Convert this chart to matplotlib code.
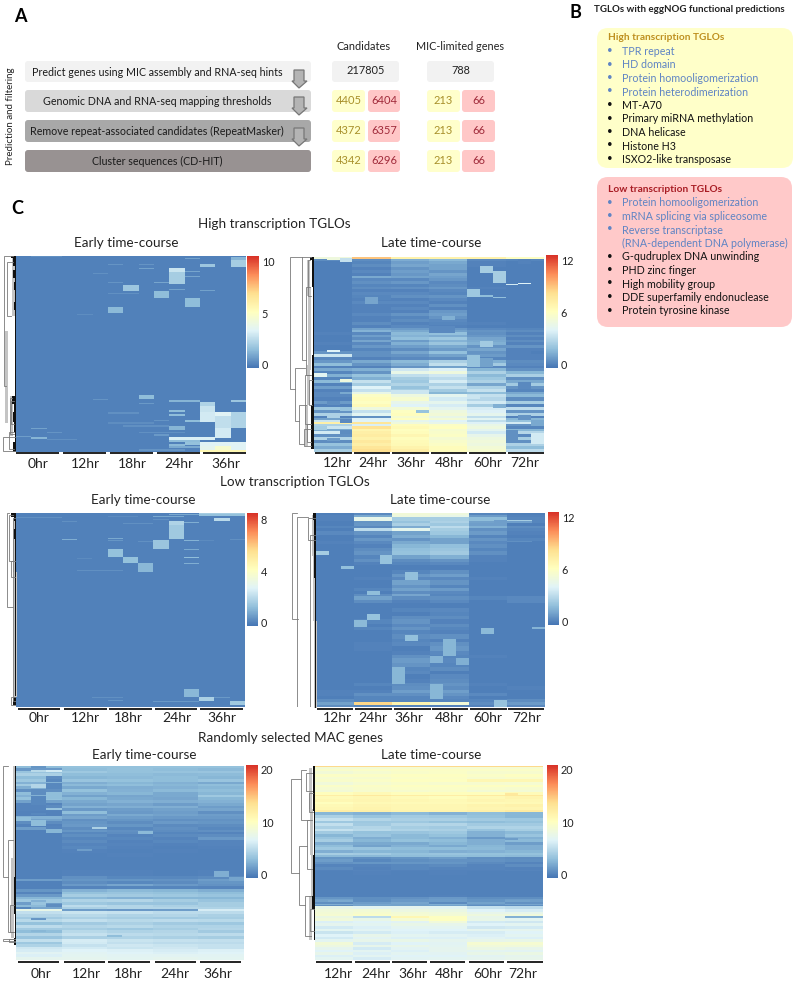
import numpy as np
import matplotlib
matplotlib.use("Agg")
import matplotlib.pyplot as plt
from matplotlib.colors import LinearSegmentedColormap, Normalize
from matplotlib.patches import FancyBboxPatch, Polygon

plt.rcParams['font.family'] = ['Lato', 'DejaVu Sans']

W, H = 800, 984
EARLY_TIMES = ['0hr', '12hr', '18hr', '24hr', '36hr']
LATE_TIMES = ['12hr', '24hr', '36hr', '48hr', '60hr', '72hr']

# ---- panel A values
STEPS = ['Predict genes using MIC assembly and RNA-seq hints',
         'Genomic DNA and RNA-seq mapping thresholds',
         'Remove repeat-associated candidates (RepeatMasker)',
         'Cluster sequences (CD-HIT)']
CANDIDATES_ALL = 217805
MIC_ALL = 788
CANDIDATES_HIGH = [4405, 4372, 4342]
CANDIDATES_LOW = [6404, 6357, 6296]
MIC_HIGH = [213, 213, 213]
MIC_LOW = [66, 66, 66]

# ---- panel B
HIGH_BLUE = ['TPR repeat', 'HD domain', 'Protein homooligomerization', 'Protein heterodimerization']
HIGH_BLACK = ['MT-A70', 'Primary miRNA methylation', 'DNA helicase', 'Histone H3', 'ISXO2-like transposase']
LOW_BLUE = ['Protein homooligomerization', 'mRNA splicing via spliceosome', 'Reverse transcriptase',
            '(RNA-dependent DNA polymerase)']
LOW_BLACK = ['G-qudruplex DNA unwinding', 'PHD zinc finger', 'High mobility group',
             'DDE superfamily endonuclease', 'Protein tyrosine kinase']

# ---- heatmaps: background rows are [span, values per time point or per replicate]
#      spots are (first row, end row, first column, end column, value)
HE_ROWS = [[196, 0, 0, 0, 0, 0]]
HE_SPOTS = [(12, 16, 10, 11, 2.8), (16, 28, 10, 11, 2.0), (29, 35, 7, 8, 1.8), (35, 42, 9, 10, 1.5),
            (42, 51, 11, 12, 1.5), (51, 57, 6, 7, 1.4), (8, 11, 12, 13, 1.8), (1, 4, 14, 15, 1.3),
            (4, 11, 14, 15, 2.0), (139, 143, 8, 9, 1.5), (146, 150, 12, 13, 2.2), (150, 156, 12, 13, 2.8),
            (156, 166, 12, 13, 3.0), (156, 160, 13, 14, 3.4), (160, 172, 13, 14, 2.6), (172, 182, 13, 14, 3.0),
            (156, 172, 14, 15, 2.2), (144, 146, 14, 15, 1.8), (144, 146, 10, 12, 1.3), (154, 156, 10, 11, 1.5),
            (158, 160, 10, 11, 1.5), (170, 174, 10, 11, 1.3), (164, 166, 11, 12, 1.5), (181, 184, 10, 13, 3.2),
            (184, 186, 10, 12, 1.5), (186, 190, 12, 15, 3.4), (190, 194, 12, 13, 3.6), (190, 194, 13, 14, 4.6),
            (190, 194, 14, 15, 3.4), (194, 196, 12, 15, 5.5), (186, 189, 11, 12, 1.6), (188, 191, 10, 11, 1.4),
            (181, 183, 1, 2, 1.3), (172, 173, 1, 2, 0.8), (180, 181, 0, 1, 0.7), (176, 177, 2, 3, 0.5),
            (0, 1, 1, 3, 0.4), (2, 3, 11, 12, 0.8), (20, 21, 11, 12, 0.9), (15, 16, 11, 12, 0.9),
            (8, 9, 6, 7, 0.5), (12, 13, 8, 9, 0.8), (8, 9, 8, 9, 0.5), (26, 27, 9, 10, 0.9), (26, 27, 6, 7, 0.5),
            (33, 34, 10, 11, 0.8), (34, 35, 12, 13, 0.8), (37, 38, 6, 8, 0.4), (58, 59, 4, 5, 0.3),
            (17, 18, 5, 6, 0.4), (143, 144, 5, 6, 0.5), (147, 148, 8, 9, 0.6), (156, 158, 6, 8, 0.4),
            (169, 171, 7, 10, 0.4), (176, 177, 8, 11, 0.4), (164, 165, 9, 10, 0.5), (178, 180, 9, 10, 0.6),
            (190, 192, 10, 12, 1.0), (183, 184, 2, 4, 0.4), (193, 195, 8, 11, 0.5), (166, 168, 6, 9, 0.3)]

HL_ROWS = [[2, 5, 9, 7, 7, 7, 6], [2, 0.4, 0.4, 1.3, 1.7, 0.3, 0.2], [3, 0, 0.2, 0.9, 1.2, 0.1, 0],
           [3, 0, 0.4, 1.1, 1.0, 0.1, 0], [3, 0, 0.1, 0.6, 1.0, 0, 0], [3, 0, 0.3, 0.9, 0.6, 0, 0],
           [3, 0, 0.1, 0.7, 1.1, 0, 0], [2, 0, 1.2, 1.0, 0.9, 0, 0], [3, 0, 0.3, 0.3, 0.7, 0, 0],
           [3, 0, 0.5, 0.7, 0.3, 0, 0], [3, 0, 0.2, 0.2, 0.4, 0, 0], [3, 0, 0.4, 0.5, 0.7, 0.1, 0],
           [3, 0, 0.1, 0.1, 0.3, 0, 0], [3, 0, 0.3, 0.3, 0.2, 0, 0], [3, 0, 0.2, 0.5, 0.6, 0, 0],
           [3, 0, 0.1, 0.1, 0.3, 0, 0], [3, 0, 0.3, 0.3, 0.1, 0, 0], [3, 0, 0.1, 0.1, 0.5, 0, 0],
           [3, 0, 0.1, 0.3, 0.1, 0, 0], [3, 0, 0.1, 0.1, 0.7, 0, 0], [3, 0, 0.3, 0.6, 0.9, 0, 0],
           [3, 0, 0.1, 0.2, 0.6, 0, 0], [3, 0, 0.1, 0.4, 0.3, 0, 0], [3, 0, 0.4, 0.1, 0.2, 0.1, 0],
           [3, 0, 0.1, 0.3, 0.1, 0, 0], [2, 0, 1.0, 0.8, 0.7, 0.3, 0.2], [2, 0, 1.5, 1.2, 1.0, 0.6, 0.4],
           [3, 0.1, 0.3, 1.7, 1.9, 0.5, 0.1], [2, 0, 0.9, 1.5, 1.3, 0.7, 0.4], [3, 0, 0.4, 1.9, 2.2, 1.1, 0.1],
           [2, 0, 1.1, 0.8, 1.5, 1.2, 0.4], [3, 0.1, 0.3, 1.4, 2.1, 1.4, 0.1], [3, 0, 0.7, 0.9, 1.2, 0.6, 0.6],
           [3, 0, 0.2, 0.4, 0.8, 1.1, 0.1], [3, 0.6, 0.5, 1.1, 1.9, 0.6, 0], [4, 3.4, 0.5, 0.6, 1.0, 0.8, 0.1],
           [3, 0.3, 0.1, 0.3, 0.4, 0.2, 0.1], [3, 0.7, 1.2, 1.7, 2.5, 1.4, 0.4], [3, 1.8, 0.6, 1.3, 3.1, 2.3, 0.3],
           [2, 0.1, 0.1, 0.6, 1.0, 0.3, 0.1], [3, 1.2, 1.4, 3.5, 3.9, 1.6, 0.5], [3, 0.2, 0.6, 4.6, 5.0, 2.6, 1.6],
           [3, 1.4, 2.0, 3.1, 3.5, 1.7, 2.5], [3, 0.2, 1.4, 2.4, 3.0, 2.2, 0.5], [3, 1.7, 3.2, 2.2, 3.7, 2.6, 1.2],
           [3, 0.1, 2.4, 2.7, 2.6, 1.1, 2.3], [3, 0.9, 4.0, 2.0, 3.2, 2.6, 0.6], [3, 0.1, 3.2, 2.4, 2.3, 3.2, 0.2],
           [2, 1.2, 4.6, 1.2, 1.6, 1.8, 1.2], [3, 0.3, 5.9, 4.9, 4.3, 3.2, 1.7], [4, 0.1, 6.3, 5.5, 3.6, 2.8, 0.4],
           [3, 0.8, 6.0, 4.5, 4.4, 3.6, 2.4], [3, 0.1, 6.4, 4.0, 3.7, 2.4, 0.2], [3, 2.2, 4.9, 5.3, 4.3, 3.7, 3.0],
           [3, 0.6, 3.2, 6.0, 4.9, 3.9, 0.6], [3, 2.6, 4.2, 6.2, 5.2, 4.4, 2.6], [2, 0.1, 0.5, 5.5, 4.6, 3.1, 0.1],
           [3, 1.0, 3.9, 6.1, 5.3, 4.2, 1.6], [2, 3.4, 4.0, 4.4, 4.0, 3.1, 2.0], [2, 7.2, 7.8, 5.0, 4.5, 3.9, 3.6],
           [2, 2.6, 3.8, 6.3, 5.9, 4.6, 0.6], [3, 3.4, 8.0, 6.5, 6.1, 4.9, 0.2], [2, 1.2, 6.8, 6.1, 5.5, 4.3, 1.6],
           [3, 3.6, 7.2, 6.3, 5.7, 3.6, 2.8], [3, 0.5, 7.4, 6.7, 5.9, 4.5, 0.3], [3, 2.7, 7.0, 6.2, 5.4, 4.9, 2.4],
           [3, 0.4, 7.6, 6.4, 5.7, 5.1, 0.5], [3, 2.0, 7.2, 6.5, 5.9, 4.9, 2.6], [3, 1.3, 7.8, 6.9, 6.3, 5.3, 1.8],
           [3, 2.4, 8.2, 7.3, 6.3, 5.5, 3.0]]
HL_SPOTS = [(0, 3, 1, 2, 5.0), (1, 5, 2, 3, 3.2), (94, 96, 1, 2, 4.0), (118, 122, 0, 1, 4.2), (124, 127, 2, 3, 5.0),
            (9, 16, 13, 14, 2.4), (14, 26, 14, 15, 2.4), (32, 41, 12, 13, 2.2), (39, 41, 13, 14, 1.8),
            (41, 42, 14, 15, 1.9), (27, 28, 15, 16, 3.6), (26, 27, 16, 17, 4.0), (85, 91, 13, 14, 2.3),
            (40, 44, 4, 6, 0.2), (41, 48, 4, 5, 1.1), (60, 64, 10, 11, 1.4), (70, 77, 9, 11, 0.3), (2, 7, 16, 17, 0.1),
            (93, 101, 15, 17, 0.1), (100, 112, 12, 13, 2.0), (103, 112, 13, 14, 1.0), (137, 141, 0, 2, 0.3),
            (146, 150, 1, 2, 0.4), (152, 156, 2, 3, 2.0), (165, 169, 2, 3, 0.3), (160, 163, 1, 2, 2.6),
            (176, 180, 2, 3, 0.4), (184, 187, 1, 2, 0.8), (172, 176, 0, 1, 2.4), (140, 144, 12, 13, 3.4),
            (149, 153, 14, 15, 1.4), (160, 166, 16, 17, 0.6), (176, 186, 15, 16, 0.5), (166, 172, 17, 18, 1.2),
            (179, 190, 17, 18, 3.6), (127, 134, 16, 17, 0.3), (155, 158, 8, 9, 2.0), (135, 139, 6, 9, 3.4)]

LE_ROWS = [[196, 0, 0, 0, 0, 0]]
LE_SPOTS = [(0, 3, 12, 15, 1.3), (0, 1, 12, 15, 1.6), (1, 2, 10, 12, 0.8), (3, 4, 9, 11, 0.8), (4, 5, 0, 3, 0.3),
            (5, 8, 13, 14, 2.0), (8, 12, 10, 11, 1.8), (12, 26, 10, 11, 1.5), (27, 36, 9, 10, 1.4), (36, 44, 6, 7, 1.3),
            (44, 51, 7, 8, 1.3), (51, 60, 8, 9, 1.1), (178, 186, 11, 12, 1.1), (186, 190, 12, 13, 1.7),
            (190, 194, 14, 15, 1.5), (9, 10, 11, 12, 0.9), (26, 27, 3, 4, 0.9), (25, 26, 6, 7, 0.8), (27, 28, 6, 7, 0.4),
            (27, 28, 11, 12, 1.0), (36, 37, 11, 12, 0.8), (44, 45, 11, 12, 1.2), (51, 52, 11, 12, 0.9),
            (58, 59, 4, 7, 0.3), (45, 46, 4, 5, 0.2), (10, 11, 7, 9, 0.3), (8, 9, 3, 4, 0.3), (6, 7, 9, 10, 0.3),
            (26, 27, 14, 15, 0.3), (186, 187, 13, 14, 0.5), (186, 187, 5, 7, 0.3), (189, 190, 6, 7, 0.4),
            (190, 191, 9, 12, 0.5), (3, 4, 6, 8, 0.2), (28, 29, 8, 9, 0.3), (27, 28, 12, 13, 0.2)]

LL_ROWS = [[2, 0, 0.3, 5.2, 5.0, 0.2, 0], [2, 0.1, 1.2, 5.0, 4.6, 0.8, 0.1], [3, 0.1, 4.5, 2.4, 2.4, 1.8, 0.2],
           [2, 0, 0.6, 2.0, 2.6, 1.2, 0.2], [3, 0, 0.7, 2.5, 2.2, 0.9, 0], [2, 0.2, 0.3, 1.3, 3.0, 1.4, 0.4],
           [3, 0, 3.0, 4.4, 2.4, 0.5, 0.2], [3, 0.3, 0.6, 1.0, 2.2, 0.8, 0.1], [3, 0, 0.2, 1.3, 1.6, 0.2, 0],
           [3, 0, 0.7, 0.6, 1.0, 0.6, 0.2], [3, 0.1, 0.3, 1.2, 1.0, 0.3, 0], [3, 0, 0.1, 1.6, 1.9, 0.5, 0],
           [3, 0, 0.4, 1.9, 2.1, 0.2, 0], [4, 0, 0.6, 2.0, 2.3, 0.5, 0], [3, 0, 0.2, 1.0, 1.4, 0.1, 0],
           [3, 0, 0.5, 0.4, 0.6, 0.1, 0], [3, 0, 0.1, 0.2, 0.3, 0, 0], [5, 0, 0, 0, 0, 0, 0],
           [3, 0, 0, 0.2, 0.5, 0, 0], [3, 0, 0, 0.7, 0.9, 0, 0], [3, 0, 0.1, 0.3, 0.3, 0.1, 0],
           [4, 0, 0, 1.0, 0.6, 0, 0], [3, 0, 0, 0.6, 0.2, 0, 0], [3, 0, 0.2, 1.0, 0.8, 0, 0],
           [3, 0, 0, 0.4, 0.3, 0, 0], [2, 0, 0.4, 1.1, 0.2, 0, 0], [3, 0, 1.0, 0.4, 0.5, 0.2, 0.3],
           [3, 0, 0.4, 0.1, 0.3, 0, 0.3], [5, 0, 0, 0, 0, 0, 0], [3, 0, 0, 0.2, 0.3, 0, 0],
           [4, 0, 0, 0, 0.2, 0, 0], [3, 0, 0, 0.4, 0.4, 0, 0], [4, 0, 0.2, 0.6, 0.1, 0, 0],
           [3, 0, 0, 0.3, 0.4, 0, 0], [3, 0, 0.2, 0.6, 0.2, 0, 0], [4, 0, 0, 0.2, 0.1, 0, 0],
           [4, 0, 0, 0.4, 0.5, 0, 0], [3, 0, 0, 0.2, 0.1, 0, 0], [4, 0, 0.1, 0.3, 0.5, 0, 0],
           [4, 0, 0.1, 0, 0.7, 0, 0], [4, 0, 0, 0.1, 0.3, 0, 0], [3, 0, 0, 0.5, 0.2, 0.1, 0],
           [4, 0, 0, 0.8, 0.3, 0, 0], [4, 0, 0, 0.6, 0.2, 0, 0], [4, 0, 0, 0.2, 0.4, 0, 0],
           [3, 0, 0, 0.3, 0, 0, 0], [4, 0, 0, 0, 0.3, 0, 0], [4, 0, 0, 0.1, 0.4, 0, 0],
           [3, 0, 0.2, 0.4, 0.6, 0.1, 0], [3, 0, 0, 0.5, 0.4, 0, 0.1], [3, 0.1, 0.1, 0.9, 0.9, 0, 0],
           [3, 0.1, 0.5, 0.5, 0.6, 0.3, 0], [3, 0, 0.2, 0.2, 0.3, 0, 0], [2, 0.4, 0.2, 0.2, 0.2, 0.2, 0.4],
           [3, 1.0, 8.5, 6.8, 5.2, 0.4, 0.8], [2, 0.4, 0.2, 0.2, 0.1, 0.1, 0.3]]
LL_SPOTS = [(35, 39, 0, 1, 2.4), (49, 52, 2, 3, 1.9), (39, 47, 5, 6, 2.0), (54, 62, 7, 8, 1.9), (72, 76, 4, 5, 1.8),
            (93, 99, 4, 5, 2.0), (99, 105, 3, 4, 1.7), (113, 118, 7, 8, 1.9), (116, 132, 10, 11, 1.6),
            (132, 138, 9, 10, 1.5), (134, 140, 11, 12, 1.4), (142, 158, 6, 7, 1.6), (158, 172, 9, 10, 1.6),
            (106, 112, 13, 14, 1.7), (182, 193, 12, 13, 2.4), (173, 181, 14, 15, 2.0), (105, 107, 17, 18, 1.5),
            (26, 27, 15, 17, 0.5), (6, 9, 14, 17, 0.9), (7, 9, 12, 14, 1.0), (6, 7, 15, 17, 2.4)]

RE_ROWS = [[2, 3, 3.2, 3.2, 3.2, 3.2], [3, 1.2, 3.0, 3.2, 3.0, 2.8], [3, 3.4, 3.6, 3.2, 3.3, 3.4], [3, 4.2, 3.0, 3.0, 2.8, 2.9],
           [3, 3.0, 2.6, 2.8, 3.0, 2.6], [3, 3.6, 3.4, 3.2, 3.0, 3.4], [2, 2.4, 2.2, 2.6, 2.4, 2.0], [3, 3.8, 2.8, 3.0, 2.6, 3.0],
           [3, 2.2, 2.0, 2.2, 2.4, 2.6], [3, 0.8, 3.2, 2.4, 2.8, 3.0], [3, 3.0, 2.4, 2.6, 2.0, 2.6], [3, 2.4, 1.6, 1.8, 2.0, 3.6],
           [3, 3.2, 2.6, 2.0, 1.8, 2.6], [3, 1.6, 2.0, 2.4, 2.2, 2.4], [3, 0.2, 1.6, 1.8, 1.4, 2.0], [3, 0.2, 2.4, 2.2, 2.2, 1.4],
           [3, 0.2, 1.2, 1.4, 1.6, 1.8], [3, 0.1, 3.0, 1.2, 1.4, 0.8], [2, 0.1, 1.4, 2.0, 1.6, 1.4], [3, 2.4, 1.8, 1.4, 1.2, 1.2],
           [3, 1.6, 0.8, 1.0, 0.8, 0.9], [3, 0.6, 1.0, 0.6, 1.2, 1.0], [3, 0.1, 1.2, 1.0, 0.5, 0.6], [3, 1.4, 0.6, 0.4, 0.8, 0.4],
           [2, 0, 1.0, 0.8, 0.6, 0.8], [3, 0, 0.4, 0.6, 0.3, 0.2], [3, 0, 0.7, 0.2, 0.5, 0.6], [3, 0, 0.3, 0.4, 0.2, 1.2],
           [3, 0, 0.5, 0.1, 0.4, 0.2], [4, 0, 0.2, 0.2, 0.1, 0.2], [3, 0, 0.4, 0.1, 0, 0.1], [4, 0, 0.1, 0, 0.1, 0],
           [5, 0, 0, 0.1, 0, 0], [6, 0, 0, 0, 0, 0], [8, 0, 0, 0, 0, 0], [6, 0, 0.1, 0.1, 0, 0.1],
           [3, 0, 0.8, 0.4, 0.4, 0.5], [3, 1.4, 1.0, 1.0, 0.9, 1.4], [3, 0, 0.6, 0.4, 0.5, 1.0], [2, 0, 1.2, 1.8, 1.2, 0.9],
           [3, 0, 0.2, 0.3, 0.3, 0.2], [3, 1.0, 2.4, 2.8, 2.6, 2.2], [3, 0.2, 3.2, 3.4, 3.2, 3.0], [3, 1.2, 4.0, 3.8, 3.6, 3.4],
           [2, 2.6, 2.8, 2.4, 2.6, 2.6], [3, 3.6, 4.4, 4.6, 4.0, 3.4], [3, 1.4, 3.6, 3.4, 3.4, 4.0], [3, 2.8, 5.0, 4.6, 4.2, 4.0],
           [2, 0.4, 4.2, 4.6, 4.6, 4.4], [2, 7.6, 1.4, 1.2, 1.4, 6.2], [3, 5.2, 5.6, 5.4, 5.0, 5.0], [3, 4.6, 4.8, 4.4, 4.6, 4.2],
           [3, 3.8, 4.2, 4.0, 3.8, 4.0], [3, 4.8, 5.2, 4.8, 5.0, 4.8], [3, 3.2, 3.8, 4.2, 3.8, 3.6], [3, 5.0, 4.6, 4.8, 4.4, 4.4],
           [3, 3.8, 4.0, 3.6, 4.0, 4.6], [3, 3.0, 4.8, 4.4, 4.6, 3.8], [3, 4.6, 5.4, 5.0, 4.8, 5.0], [3, 3.4, 4.2, 4.4, 4.2, 4.0],
           [3, 5.2, 6.2, 5.6, 5.4, 5.2], [3, 3.6, 6.0, 5.2, 5.0, 5.0], [3, 4.4, 5.4, 5.8, 5.6, 5.4], [2, 5.8, 6.0, 5.6, 5.8, 5.4],
           [3, 6.2, 6.6, 6.4, 6.2, 6.4], [3, 6.8, 6.8, 6.6, 6.4, 6.6], [3, 6.4, 7.0, 6.8, 6.8, 6.8], [3, 7.2, 7.2, 7.0, 7.2, 7.0]]
RE_SPOTS = [(0, 2, 1, 2, 1.0), (4, 6, 1, 2, 4.8), (4, 6, 2, 3, 6.0), (11, 14, 2, 3, 0.6), (14, 17, 1, 2, 3.6), (14, 17, 2, 3, 0.4),
            (18, 25, 2, 3, 0.4), (20, 24, 1, 2, 4.6), (25, 31, 1, 2, 0.6), (31, 36, 2, 3, 3.0), (33, 42, 1, 2, 0.4),
            (42, 46, 2, 3, 0.5), (45, 48, 2, 3, 3.4), (51, 53, 1, 2, 0.4), (55, 59, 0, 1, 3.0), (58, 65, 1, 2, 3.0),
            (65, 68, 2, 3, 0.2), (68, 72, 2, 3, 2.6), (66, 68, 5, 6, 4.2), (70, 74, 8, 9, 2.8), (90, 92, 4, 5, 1.4),
            (145, 147, 1, 2, 2.4), (147, 150, 1, 2, 3.4), (145, 148, 2, 3, 3.6), (149, 154, 2, 3, 0.6), (153, 155, 1, 3, 1.8),
            (165, 167, 1, 2, 1.0), (178, 180, 1, 2, 2.6), (183, 185, 6, 7, 3.0), (114, 120, 13, 14, 2.2), (120, 124, 14, 15, 1.8)]

RL_ROWS = [[1, 14, 14, 14, 14, 14, 14], [2, 8.8, 8.8, 9, 9, 9, 9], [3, 9.4, 9.6, 9.8, 9.8, 9.6, 9.6], [3, 8.6, 9, 9.4, 9.6, 9.2, 9.2],
           [3, 9.8, 9.8, 10, 10, 9.6, 10], [3, 9, 9.2, 9.6, 9.8, 9.2, 9.4], [3, 9.4, 9.6, 10, 10, 11, 11], [3, 8.4, 9, 9.4, 9.2, 9.2, 9.0],
           [3, 9.6, 9.8, 10, 10, 10, 10], [3, 9, 9.4, 9.6, 9.6, 9.4, 9.2], [2, 8.6, 9.2, 9.2, 9.4, 8.8, 8.8], [3, 10.4, 10.8, 10.4, 10.4, 10.4, 10.6],
           [2, 12, 12.6, 12.2, 12.0, 12.4, 12.8], [3, 10.6, 11, 10.6, 10.4, 10.8, 11.4], [3, 11, 11.2, 11.0, 10.8, 11.2, 11.0], [3, 10.2, 10.8, 10.6, 10.6, 10.6, 10.8],
           [3, 10.8, 11.2, 11.0, 11.0, 11.4, 11.6], [3, 11, 11.4, 11.0, 11.0, 11.2, 11.2], [2, 12, 11.8, 11.4, 11.4, 11.8, 12.4], [1, 2, 3, 3, 3, 3, 3],
           [3, 2.6, 2.4, 2.8, 2.4, 3.0, 2.6], [3, 4.2, 3.4, 3.8, 3.6, 3.2, 2.6], [3, 5.4, 4.6, 4.2, 4.2, 3.8, 3.6], [3, 3.6, 3.6, 3.6, 3.2, 3.0, 3.2],
           [3, 5.2, 3.8, 4.6, 4.6, 3.8, 3.8], [3, 4.2, 4.6, 4.0, 3.8, 4.4, 4.4], [3, 5.4, 4.8, 4.4, 4.2, 3.4, 4.0], [3, 3.8, 3.2, 3.4, 3.6, 2.4, 2.8],
           [3, 2.6, 3.4, 2.8, 3.2, 2.4, 3.4], [3, 3.4, 2.2, 2.8, 2.4, 1.2, 2.4], [3, 4.0, 2.6, 3.2, 3.0, 2.2, 2.8], [3, 2.2, 2.0, 2.0, 2.6, 2.2, 1.4],
           [3, 3.0, 1.6, 2.4, 2.0, 2.6, 2.2], [3, 3.6, 3.4, 3.0, 3.0, 2.8, 2.2], [3, 2.2, 2.6, 2.6, 2.2, 2.4, 2.6], [3, 4.0, 3.8, 3.2, 3.4, 3.2, 3.2],
           [2, 2.8, 2.8, 3.0, 3.0, 3.0, 2.8], [2, 1.0, 0.8, 1.0, 1.4, 0.8, 0.6], [3, 1.4, 0.4, 0.7, 0.9, 0.9, 0.7], [3, 0.9, 1.0, 1.0, 1.0, 0.5, 0.2],
           [3, 0.2, 0.2, 0.4, 0.5, 0.2, 0.6], [3, 0.5, 0.1, 0.4, 0.2, 0.2, 0.1], [2, 0.1, 0.2, 0.1, 0.1, 0.1, 0.2], [4, 0, 0.1, 0, 0.1, 0, 0],
           [6, 0, 0, 0, 0, 0, 0], [8, 0, 0, 0, 0, 0, 0], [8, 0, 0, 0, 0, 0, 0], [3, 0, 0, 0, 0.1, 0, 0],
           [2, 1.0, 0.7, 0.9, 1.2, 0.7, 0.7], [3, 1.6, 0.7, 1.2, 1.4, 1.0, 1.4], [2, 0.7, 1.4, 1.8, 0.5, 1.6, 0.9], [2, 2.2, 1.8, 1.6, 2.2, 1.2, 1.8],
           [1, 0.7, 1.6, 1.6, 1.6, 0.7, 0.7], [3, 7.6, 7.0, 7.2, 7.0, 5.4, 5.0], [3, 8.4, 8.8, 8.0, 7.8, 6.6, 6.2], [3, 8.8, 9.2, 8.8, 8.4, 7.4, 7.4],
           [2, 9.0, 9.6, 9.0, 8.8, 8.2, 8.4], [2, 7.8, 5.0, 11.0, 10.0, 7.4, 2.4], [3, 8.4, 7.6, 9.0, 10.0, 7.6, 7.0], [3, 6.4, 6.6, 6.8, 8.4, 6.0, 5.8],
           [3, 7.2, 7.0, 7.6, 7.4, 6.6, 7.0], [3, 6.0, 6.4, 7.0, 7.0, 5.8, 6.0], [3, 7.0, 6.8, 6.6, 6.6, 7.2, 7.2], [3, 5.6, 6.0, 6.4, 6.2, 6.2, 6.6],
           [3, 6.6, 7.4, 7.0, 6.8, 6.4, 7.0], [3, 6.0, 6.8, 6.4, 6.4, 6.8, 6.4], [3, 7.0, 7.4, 7.6, 7.2, 7.4, 7.6], [3, 8.6, 6.2, 6.6, 6.8, 9.0, 9.0],
           [3, 8.0, 7.4, 7.4, 7.0, 8.4, 8.4], [3, 7.2, 6.0, 6.8, 7.2, 7.8, 7.4], [2, 6.6, 7.0, 6.4, 7.2, 7.0, 6.8], [3, 7.4, 6.4, 7.0, 6.8, 7.6, 7.8],
           [3, 6.4, 7.0, 6.6, 6.6, 6.8, 7.2], [3, 7.0, 6.2, 6.8, 7.0, 7.2, 7.4]]
RL_SPOTS = [(80, 83, 15, 16, 1.4), (150, 152, 15, 17, 1.6), (150, 152, 1, 3, 2.0), (30, 32, 15, 16, 12.6)]

# ---- dendrograms: (height, first row, last row, child height at first row, child height at last row)
HE_TREE = [(12, 0, 130, 3, 10), (9, 6, 60, 3, 5), (13, 181, 195, 0, 0), (7, 176, 193, 2, 2), (6, 142, 178, 4, 2),
           (5, 145, 168, 2, 2)]
HL_TREE = [(24, 0, 134, 12, 19), (19, 113, 167, 9, 15), (15, 150, 190, 8, 10), (12, 0, 105, 3, 8), (10, 175, 192, 3, 3),
           (9, 120, 170, 3, 4), (8, 30, 120, 4, 4), (7, 170, 188, 3, 3), (6, 3, 40, 4, 3), (5, 125, 150, 2, 2)]
LE_TREE = [(9, 0, 95, 7, 3), (7, 2, 48, 3, 4), (5, 48, 65, 0, 0), (3, 5, 190, 0, 0), (5, 186, 194, 0, 0)]
LL_TREE = [(24, 0, 98, 19, 18), (19, 4, 193, 8, 6), (8, 5, 25, 0, 0), (6, 20, 190, 1, 1), (5, 190, 193, 0, 0)]
RE_TREE = [(13, 0, 120, 8, 8), (8, 80, 180, 3, 3), (13, 187, 189, 0, 0), (7, 187, 191, 0, 0), (6, 150, 180, 2, 2)]
RL_TREE = [(24, 14, 120, 14, 16), (16, 90, 155, 8, 10), (14, 5, 60, 9, 6), (10, 145, 190, 4, 4), (9, 8, 28, 3, 3),
           (8, 60, 115, 3, 3), (6, 30, 52, 2, 2), (5, 160, 185, 1, 1)]
# gray and black leaf bands: (first row, last row, height)
HE_BUSH = [(2, 60, 4), (75, 167, 11), (140, 180, 6)]
HL_BUSH = [(3, 40, 7), (30, 115, 6), (110, 150, 7), (150, 192, 9)]
LE_BUSH = [(5, 60, 3), (60, 186, 2)]
LL_BUSH = [(2, 40, 4), (40, 100, 3), (100, 190, 2)]
RE_BUSH = [(0, 120, 3), (100, 140, 5), (140, 186, 5)]
RL_BUSH = [(2, 48, 6), (48, 100, 5), (100, 145, 4), (145, 195, 6)]
HE_LEAVES = [(0, 2, 5), (2, 10, 3), (10, 14, 1), (14, 22, 3), (22, 26, 1), (26, 34, 2), (34, 46, 1), (46, 54, 2),
             (54, 140, 1), (140, 148, 4), (148, 156, 2), (156, 166, 3), (166, 176, 2), (176, 186, 1), (186, 196, 3)]
HL_LEAVES = [(0, 3, 4), (3, 30, 2), (30, 100, 1), (100, 150, 2), (150, 195, 3)]
LE_LEAVES = [(0, 4, 5), (4, 8, 2), (8, 16, 1), (16, 26, 2), (26, 60, 1), (60, 185, 1), (186, 194, 3)]
LL_LEAVES = [(0, 6, 3), (6, 60, 2), (60, 185, 1), (185, 195, 2)]
RE_LEAVES = [(0, 60, 1), (60, 120, 1), (120, 160, 2), (160, 186, 1), (186, 194, 2)]
RL_LEAVES = [(0, 50, 2), (50, 100, 1), (100, 145, 2), (145, 160, 3), (160, 195, 1)]

HEATMAPS = [
    dict(rows=HE_ROWS, spots=HE_SPOTS, tree=HE_TREE, leaves=HE_LEAVES, bush=HE_BUSH, ncol=15, vmax=10.5, vmin=-0.3, ticks=[0, 5, 10],
         box=(16, 256, 246, 452), cbar=(247, 256, 259, 368), times=EARLY_TIMES, tree_px=13,
         lab_x=[38, 85, 132, 179, 226], lab_y=464, bar_y=452.5,
         bars=[(16, 59), (63, 106), (110, 153), (157, 200), (203, 246)]),
    dict(rows=HL_ROWS, spots=HL_SPOTS, tree=HL_TREE, leaves=HL_LEAVES, bush=HL_BUSH, ncol=18, vmax=12.6, vmin=-0.35, ticks=[0, 6, 12],
         box=(314, 257, 544, 452), cbar=(546, 255, 558, 368), times=LATE_TIMES, tree_px=24,
         lab_x=[337, 373, 411, 449, 488, 525], lab_y=463, bar_y=453,
         bars=[(315, 352), (354, 390), (392, 429), (431, 467), (469, 506), (508, 544)]),
    dict(rows=LE_ROWS, spots=LE_SPOTS, tree=LE_TREE, leaves=LE_LEAVES, bush=LE_BUSH, ncol=15, vmax=8.5, vmin=-0.25, ticks=[0, 4, 8],
         box=(16, 513, 245, 707), cbar=(247, 513, 258, 626), times=EARLY_TIMES, tree_px=9,
         lab_x=[39, 85, 128, 177, 222], lab_y=718, bar_y=709,
         bars=[(18, 60), (64, 107), (109, 152), (155, 197), (200, 243)]),
    dict(rows=LL_ROWS, spots=LL_SPOTS, tree=LL_TREE, leaves=LL_LEAVES, bush=LL_BUSH, ncol=18, vmax=12.6, vmin=-0.35, ticks=[0, 6, 12],
         box=(316, 513, 545, 707), cbar=(548, 512, 559, 625), times=LATE_TIMES, tree_px=24,
         lab_x=[337, 373, 409, 449, 488, 527], lab_y=718, bar_y=709,
         bars=[(317, 353), (355, 392), (394, 431), (432, 468), (470, 507), (508, 544)]),
    dict(rows=RE_ROWS, spots=RE_SPOTS, tree=RE_TREE, leaves=RE_LEAVES, bush=RE_BUSH, ncol=15, vmax=20.9, vmin=-0.6, ticks=[0, 10, 20],
         box=(16, 766, 244, 960), cbar=(246, 765, 258, 878), times=EARLY_TIMES, tree_px=13,
         lab_x=[41, 86, 128, 175, 218], lab_y=974, bar_y=962,
         bars=[(18, 59), (64, 105), (108, 150), (155, 196), (200, 241)]),
    dict(rows=RL_ROWS, spots=RL_SPOTS, tree=RL_TREE, leaves=RL_LEAVES, bush=RL_BUSH, ncol=18, vmax=20.9, vmin=-0.6, ticks=[0, 10, 20],
         box=(315, 766, 543, 960), cbar=(547, 765, 558, 878), times=LATE_TIMES, tree_px=24,
         lab_x=[338, 376, 413, 449, 488, 523], lab_y=974, bar_y=962,
         bars=[(316, 352), (355, 390), (392, 427), (430, 465), (469, 504), (507, 543)]),
]

CMAP = LinearSegmentedColormap.from_list(
    'pheat', ['#4575B4', '#91BFDB', '#E0F3F8', '#FFFFBF', '#FEE090', '#FC8D59', '#D73027'])


def build_matrix(rows, spots, ncol):
    out = []
    for row in rows:
        vals = row[1:]
        per = ncol // len(vals)
        out.extend([np.repeat(vals, per)] * row[0])
    mat = np.array(out, dtype=float)
    for r0, r1, c0, c1, v in spots:
        mat[r0:r1, c0:c1] = v
    return mat


fig = plt.figure(figsize=(W / 100, H / 100), dpi=100)


def px_axes(x0, y0, x1, y1, **kw):
    return fig.add_axes([x0 / W, 1 - y1 / H, (x1 - x0) / W, (y1 - y0) / H], **kw)


bg = px_axes(0, 0, W, H, zorder=0)
bg.set_xlim(0, W)
bg.set_ylim(H, 0)
bg.axis('off')


def rbox(x0, y0, x1, y1, color, r=3, ax=bg):
    ax.add_patch(FancyBboxPatch((x0 + r, y0 + r), x1 - x0 - 2 * r, y1 - y0 - 2 * r,
                                boxstyle=f'round,pad={r},rounding_size={r}', fc=color, ec='none'))


def txt(x, y, s, size=8.0, ha='center', color='#222222', **kw):
    bg.text(x, y, s, fontsize=size, ha=ha, va='center', color=color, **kw)


# ---- panel A
txt(20, 16, 'A', size=13, fontweight='bold', color='black')
txt(364, 47, 'Candidates', size=7.9)
txt(460, 47, 'MIC-limited genes', size=7.8)
txt(11, 116, 'Prediction and filtering', size=7.0, rotation=90)
STEP_Y = [(61, 82), (90, 112), (120, 142), (150, 172)]
STEP_COL = ['#F2F2F2', '#D9D9D9', '#A8A8A8', '#989292']
for (y0, y1), col in zip(STEP_Y, STEP_COL):
    rbox(25, y0, 311, y1, col)
for (y0, y1), s in zip(STEP_Y, STEPS):
    txt(157, (y0 + y1) / 2 + 0.5, s, size=7.7, color='#1a1a1a')
for x0, x1, v in ((332, 399, CANDIDATES_ALL), (427, 494, MIC_ALL)):
    rbox(x0, 61, x1, 82, '#F2F2F2')
    txt((x0 + x1) / 2, 71, str(v), size=7.9)
YEL, RED, YT, RT = '#FFFFCC', '#FFC7C7', '#A8902A', '#A02A3A'
for (y0, y1), a, b, c, d in zip(STEP_Y[1:], CANDIDATES_HIGH, CANDIDATES_LOW, MIC_HIGH, MIC_LOW):
    rbox(332, y0, 365, y1, YEL)
    rbox(368, y0, 400, y1, RED)
    rbox(427, y0, 460, y1, YEL)
    rbox(462, y0, 495, y1, RED)
    ym = (y0 + y1) / 2
    txt(348.5, ym, str(a), color=YT)
    txt(384, ym, str(b), color=RT)
    txt(443, ym, str(c), color=YT)
    txt(479, ym, str(d), color=RT)
for ya in (70, 97, 128):
    pts = [(294, ya), (304, ya), (304, ya + 11), (307, ya + 11), (299, ya + 18), (292, ya + 11), (294, ya + 11)]
    bg.add_patch(Polygon(pts, closed=True, fc='#B4B4B4', ec='#777777', lw=0.9, zorder=3))

# ---- panel B
txt(575, 13, 'B', size=13, fontweight='bold', color='black')
txt(594, 10, 'TGLOs with eggNOG functional predictions', size=7.0, ha='left', fontweight='bold')
rbox(597, 28, 793, 168, '#FFFFC9', r=11)
rbox(597, 177, 792, 327, '#FFC9C9', r=11)
BLUE = '#5F84C4'
txt(608, 38, 'High transcription TGLOs', size=7.3, ha='left', fontweight='bold', color='#BE9020')
txt(608, 189, 'Low transcription TGLOs', size=7.3, ha='left', fontweight='bold', color='#A81C24')
for i, s in enumerate(HIGH_BLUE + HIGH_BLACK):
    y = 51.5 + 13.5 * i
    c = BLUE if i < len(HIGH_BLUE) else '#111111'
    txt(622, y, s, size=7.7, ha='left', color=c)
    txt(610, y - 1, '•', size=7, color=c)
for i, s in enumerate(LOW_BLUE + LOW_BLACK):
    y = 203 + 13.5 * i
    c = BLUE if i < len(LOW_BLUE) else '#111111'
    txt(622, y, s, size=7.7, ha='left', color=c)
    if i != 3:
        txt(610, y - 1, '•', size=7, color=c)

# ---- panel C
txt(17, 208, 'C', size=13, fontweight='bold', color='black')
SECTION_TITLES = [(274, 224, 'High transcription TGLOs'), (295, 482, 'Low transcription TGLOs'),
                  (290, 738, 'Randomly selected MAC genes')]
SUB_TITLES = [(126, 243, 'Early time-course'), (431, 243, 'Late time-course'),
              (143, 500, 'Early time-course'), (440, 500, 'Late time-course'),
              (144, 755, 'Early time-course'), (431, 755, 'Late time-course')]
for x, y, s in SECTION_TITLES + SUB_TITLES:
    txt(x, y, s, size=9.7)

for hm in HEATMAPS:
    x0, y0, x1, y1 = hm['box']
    mat = build_matrix(hm['rows'], hm['spots'], hm['ncol'])
    ax = px_axes(x0, y0, x1, y1)
    norm = Normalize(vmin=hm['vmin'], vmax=hm['vmax'])
    im = ax.imshow(mat, aspect='auto', cmap=CMAP, norm=norm, interpolation='nearest')
    ax.axis('off')
    # colour bar
    cx0, cy0, cx1, cy1 = hm['cbar']
    cax = px_axes(cx0, cy0, cx1, cy1)
    cb = fig.colorbar(im, cax=cax, ticks=hm['ticks'])
    cb.outline.set_visible(False)
    cb.ax.tick_params(length=0, labelsize=7.8, pad=2, labelcolor='#222222')
    # time bars and labels
    for (b0, b1), s, lx in zip(hm['bars'], hm['times'], hm['lab_x']):
        bg.plot([b0, b1], [hm['bar_y'], hm['bar_y']], color='#222222', lw=1.4, solid_capstyle='butt')
        txt(lx, hm['lab_y'], s, size=10)
    # dendrogram
    tree_px = hm['tree_px']
    dax = px_axes(x0 - tree_px - 1, y0, x0, y1)
    dax.set_xlim(tree_px + 1, 0)
    dax.set_ylim(mat.shape[0], 0)
    dax.axis('off')
    for r0, r1, h in hm['bush']:
        dax.fill_betweenx([r0, r1], h - 3, h, color='#C4C4C4', lw=0)
    for h, r0, r1, c0, c1 in hm['tree']:
        dax.plot([c0, h, h, c1], [r0, r0, r1, r1], color='#7a7a7a', lw=0.6, solid_joinstyle='miter')
    for r0, r1, h in hm['leaves']:
        dax.fill_betweenx([r0, r1], 0, h, color='#111111', lw=0)

fig.savefig('out.png', dpi=100)
